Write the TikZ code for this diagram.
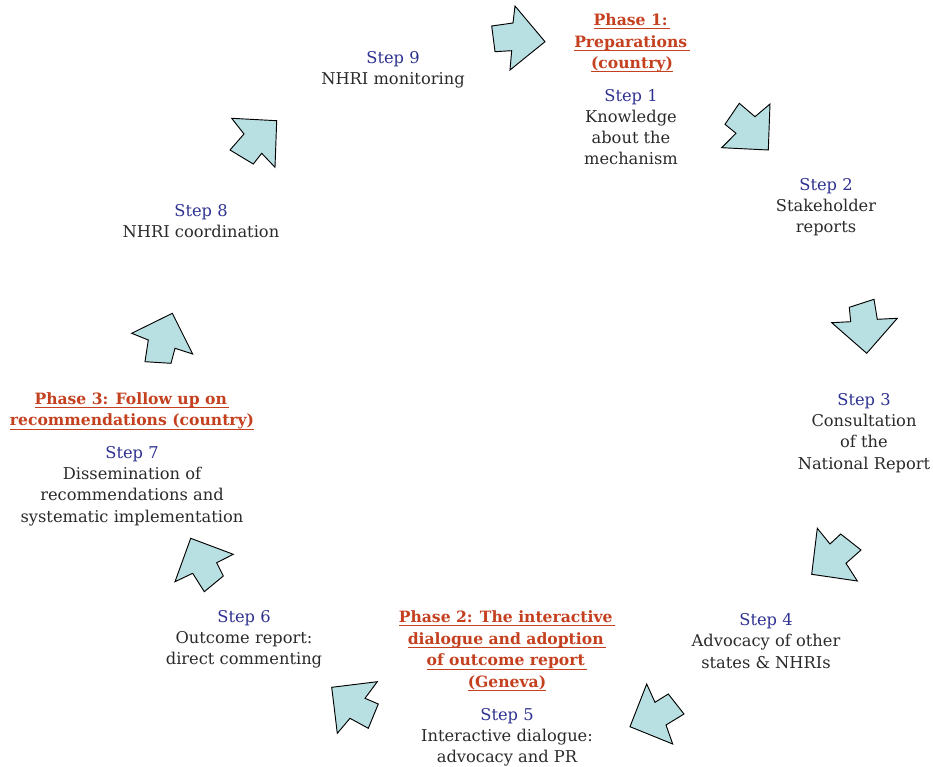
\documentclass[tikz,border=0pt]{standalone}
\usepackage{fontspec}
\setmainfont{DejaVu Serif}
\definecolor{phasered}{HTML}{C4401F}
\definecolor{stepblue}{HTML}{2E3190}
\definecolor{bodygray}{HTML}{2A2A2A}
\definecolor{arrowfill}{HTML}{B8DFE2}
\tikzset{
  blockarrow/.style={draw=black, line width=0.7pt, fill=arrowfill, line join=miter},
  txt/.style={align=center, inner sep=0pt, text=bodygray, font=\fontsize{12.2}{15.9}\selectfont},
  phase/.style={align=center, inner sep=0pt, text=phasered, font=\bfseries\fontsize{11.7}{16.2}\selectfont},
}
\newcommand{\stp}[1]{\textcolor{stepblue}{#1}}
\newsavebox{\ulbox}
\newcommand{\ul}[1]{\sbox{\ulbox}{#1}\rlap{\color{phasered}\raisebox{-2.8pt}{\rule{\wd\ulbox}{0.75pt}}}\textcolor{phasered}{\usebox{\ulbox}}}
\begin{document}
\begin{tikzpicture}[x=0.75pt,y=-0.75pt]
\useasboundingbox (0,0) rectangle (933,767);
% arrows
\draw[blockarrow] (491.7,26) -- (513,23) -- (515,6) -- (545,41.7) -- (510,70) -- (511.7,50.7) -- (495,51.7) -- cycle;
\draw[blockarrow] (739.3,103.3) -- (755,116.7) -- (770,104) -- (768.3,150) -- (721.7,147.7) -- (736,133.3) -- (725,124.3) -- cycle;
\draw[blockarrow] (849.3,307.3) -- (874,299.3) -- (877.3,319.3) -- (897.3,318.3) -- (866.7,353.3) -- (831.7,322.7) -- (850.7,321.7) -- cycle;
\draw[blockarrow] (817.3,528.3) -- (830,544) -- (840.7,534) -- (861,550) -- (846,563.3) -- (857.3,581) -- (811.7,574.3) -- cycle;
\draw[blockarrow] (646.7,684) -- (655,702.3) -- (668.3,694) -- (684,714) -- (666,725) -- (672.7,744) -- (630,726.7) -- cycle;
\draw[blockarrow] (331.7,687.3) -- (377.3,681.7) -- (365,698.3) -- (378.3,704) -- (368.3,728.3) -- (350,718.3) -- (337.3,733.3) -- cycle;
\draw[blockarrow] (190.7,538.3) -- (233.3,554.3) -- (216.7,562.7) -- (223.3,576) -- (204.3,591.7) -- (192.7,573.3) -- (175,581.7) -- cycle;
\draw[blockarrow] (131.7,333.3) -- (172.3,313.3) -- (192.7,354) -- (175,348.3) -- (171,363.3) -- (145,361.7) -- (148.3,340) -- cycle;
\draw[blockarrow] (231.7,118.3) -- (276.7,120.7) -- (275,167.3) -- (261.7,153.3) -- (253.3,164) -- (230,150) -- (244,134) -- cycle;
% phase 1 and step 1
\node[phase] (ph1) at (632,43) {\ul{Phase 1:\,}\\\ul{Preparations\,}\\\ul{(country)}};
\node[txt] (s1) at (631,127) {\stp{Step 1}\\Knowledge\\about the\\mechanism};
\node[txt] (s2) at (826,207) {\stp{Step 2}\\Stakeholder\\reports};
\node[txt] (s3) at (864,433) {\stp{Step 3}\\Consultation\\of the\\National Report};
\node[txt] (s4) at (766,641) {\stp{Step 4}\\Advocacy of other\\states \& NHRIs};
\node[phase] (ph2) at (507,651) {\ul{Phase 2: The interactive\,}\\\ul{dialogue and adoption\,}\\\ul{of outcome report\,}\\\ul{(Geneva)}};
\node[txt] (s5) at (507,737) {\stp{Step 5}\\Interactive dialogue:\\advocacy and PR};
\node[txt] (s6) at (244,639) {\stp{Step 6}\\Outcome report:\\direct commenting};
\node[phase] (ph3) at (132,411) {\ul{Phase 3: Follow up on\,}\\\ul{recommendations (country)}};
\node[txt] (s7) at (132,486) {\stp{Step 7}\\Dissemination of\\recommendations and\\systematic implementation};
\node[txt] (s8) at (201,221) {\stp{Step 8}\\NHRI coordination};
\node[txt] (s9) at (393,70) {\stp{Step 9}\\NHRI monitoring};
\end{tikzpicture}
\end{document}
